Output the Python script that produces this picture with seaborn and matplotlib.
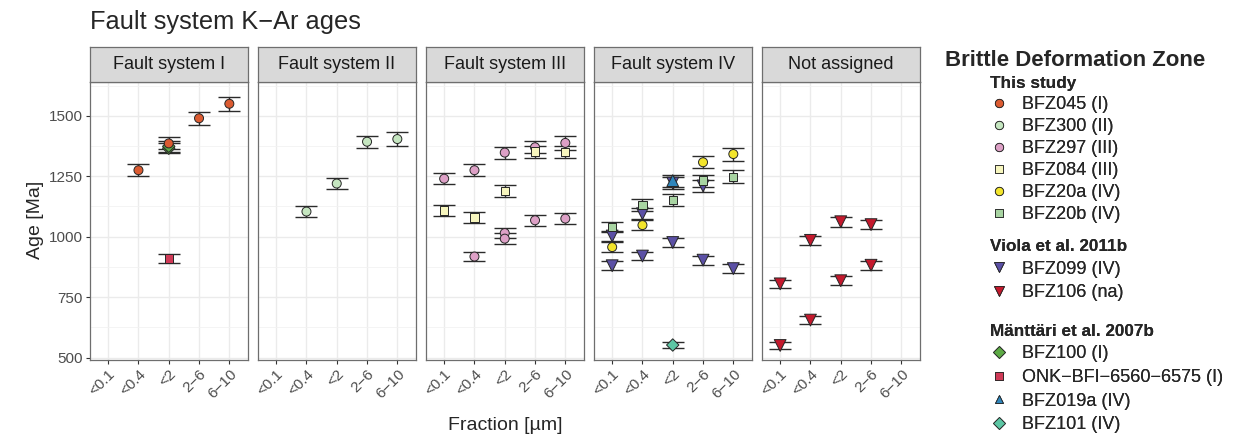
import matplotlib
matplotlib.use("Agg")
import matplotlib.pyplot as plt
import seaborn as sns
import pandas as pd
from matplotlib.lines import Line2D
from matplotlib.ticker import MultipleLocator

fractions = ['<0.1', '<0.4', '<2', '2−6', '6−10']
panels = ['Fault system I', 'Fault system II', 'Fault system III', 'Fault system IV', 'Not assigned']
y_ticks = [500, 750, 1000, 1250, 1500]

# one entry per measured age
sample = (['BFZ045 (I)'] * 4 + ['BFZ100 (I)'] * 2 + ['ONK−BFI−6560−6575 (I)']
          + ['BFZ300 (II)'] * 4
          + ['BFZ297 (III)'] * 10 + ['BFZ084 (III)'] * 5
          + ['BFZ20a (IV)'] * 4 + ['BFZ20b (IV)'] * 5 + ['BFZ099 (IV)'] * 9
          + ['BFZ019a (IV)'] + ['BFZ101 (IV)']
          + ['BFZ106 (na)'] * 8)
system = (['Fault system I'] * 7 + ['Fault system II'] * 4 + ['Fault system III'] * 15
          + ['Fault system IV'] * 20 + ['Not assigned'] * 8)
fraction = ['<0.4', '<2', '2−6', '6−10', '<2', '<2', '<2',
            '<0.4', '<2', '2−6', '6−10',
            '<0.1', '<0.4', '<0.4', '<2', '<2', '<2', '2−6', '2−6', '6−10', '6−10',
            '<0.1', '<0.4', '<2', '2−6', '6−10',
            '<0.1', '<0.4', '2−6', '6−10',
            '<0.1', '<0.4', '<2', '2−6', '6−10',
            '<0.1', '<0.1', '<0.4', '<0.4', '<2', '<2', '2−6', '2−6', '6−10',
            '<2', '<2',
            '<0.1', '<0.1', '<0.4', '<0.4', '<2', '<2', '2−6', '2−6']
age = [1275, 1386, 1490, 1550, 1366, 1374, 910,
       1104, 1220, 1393, 1404,
       1240, 1275, 918, 1348, 1015, 992, 1370, 1068, 1388, 1075,
       1108, 1080, 1190, 1352, 1350,
       957, 1048, 1308, 1342,
       1040, 1130, 1152, 1232, 1248,
       1003, 880, 1095, 920, 976, 1222, 1210, 903, 868,
       1232, 552,
       805, 550, 985, 655, 1062, 818, 1050, 882]
age_err = [25, 25, 27, 30, 20, 22, 18,
           22, 24, 25, 28,
           24, 25, 20, 25, 22, 22, 25, 22, 28, 22,
           22, 22, 24, 25, 25,
           20, 22, 25, 27,
           22, 24, 24, 25, 26,
           20, 18, 22, 18, 20, 24, 24, 18, 18,
           25, 12,
           18, 16, 18, 16, 20, 18, 20, 18]

groups = {
    'This study': ['BFZ045 (I)', 'BFZ300 (II)', 'BFZ297 (III)', 'BFZ084 (III)', 'BFZ20a (IV)', 'BFZ20b (IV)'],
    'Viola et al. 2011b': ['BFZ099 (IV)', 'BFZ106 (na)'],
    'Mänttäri et al. 2007b': ['BFZ100 (I)', 'ONK−BFI−6560−6575 (I)', 'BFZ019a (IV)', 'BFZ101 (IV)'],
}
colors = {
    'BFZ045 (I)': '#DC5B31', 'BFZ300 (II)': '#C5E6C0', 'BFZ297 (III)': '#DDA0C6',
    'BFZ084 (III)': '#F7F6BE', 'BFZ20a (IV)': '#F3E52C', 'BFZ20b (IV)': '#A8D4A2',
    'BFZ099 (IV)': '#5B50A5', 'BFZ106 (na)': '#C4192D',
    'BFZ100 (I)': '#5DAA45', 'ONK−BFI−6560−6575 (I)': '#D03A57',
    'BFZ019a (IV)': '#2F86BC', 'BFZ101 (IV)': '#5CC6A4',
}
markers = {
    'BFZ045 (I)': 'o', 'BFZ300 (II)': 'o', 'BFZ297 (III)': 'o', 'BFZ084 (III)': 's',
    'BFZ20a (IV)': 'o', 'BFZ20b (IV)': 's', 'BFZ099 (IV)': 'v', 'BFZ106 (na)': 'v',
    'BFZ100 (I)': 'D', 'ONK−BFI−6560−6575 (I)': 's', 'BFZ019a (IV)': '^', 'BFZ101 (IV)': 'D',
}
marker_area = {'o': 42, 's': 36, 'v': 72, '^': 72, 'D': 40}

df = pd.DataFrame({'sample': sample, 'system': system, 'fraction': fraction,
                   'age': age, 'err': age_err})
df['xpos'] = pd.Categorical(df['fraction'], categories=fractions).codes
# older studies underneath, this study on top
draw_order = groups['Viola et al. 2011b'] + groups['Mänttäri et al. 2007b'] + groups['This study']
df['layer'] = df['sample'].map({s: k for k, s in enumerate(draw_order)})
df = df.sort_values('layer', kind='stable')

sns.set_theme(style='whitegrid')
plt.rcParams['font.family'] = ['Liberation Sans', 'DejaVu Sans']

W, H = 1233, 441
fig = plt.figure(figsize=(W / 100, H / 100), dpi=100)

left0, pw, gap = 90, 157.5, 10.5
ptop, pbot, strip_h = 82, 360, 35
sizes = {s: marker_area[markers[s]] for s in colors}

for i, name in enumerate(panels):
    x0 = left0 + i * (pw + gap)
    ax = fig.add_axes([x0 / W, 1 - pbot / H, pw / W, (pbot - ptop) / H])
    sub = df[df['system'] == name]
    ax.errorbar(sub['xpos'], sub['age'], yerr=sub['err'], fmt='none', ecolor='#2b2b2b',
                elinewidth=1.0, capsize=8, capthick=1.0, zorder=2)
    sns.scatterplot(data=sub, x='xpos', y='age', hue='sample', style='sample', size='sample',
                    palette=colors, markers=markers, sizes=sizes, edgecolor='#262626',
                    linewidth=0.7, legend=False, ax=ax, zorder=3)
    ax.set_xlim(-0.6, 4.6)
    ax.set_ylim(490, 1640)
    ax.set_xticks(range(len(fractions)))
    ax.set_xticklabels(fractions, rotation=45, ha='right', rotation_mode='anchor',
                       fontsize=11, color='#4D4D4D')
    ax.set_yticks(y_ticks)
    ax.yaxis.set_minor_locator(MultipleLocator(125))
    ax.grid(True, which='major', color='#EBEBEB', lw=1.0)
    ax.grid(True, which='minor', axis='y', color='#F2F2F2', lw=0.6)
    ax.set_axisbelow(True)
    ax.set_facecolor('white')
    ax.tick_params(axis='both', length=3, width=0.8, color='#333333', pad=2)
    ax.tick_params(axis='x', direction='out', bottom=True)
    ax.tick_params(axis='y', direction='out', left=(i == 0))
    if i == 0:
        ax.set_yticklabels([str(v) for v in y_ticks], fontsize=11, color='#4D4D4D')
    else:
        ax.set_yticklabels([])
    ax.set_xlabel('')
    ax.set_ylabel('')
    for sp in ax.spines.values():
        sp.set_color('#6E6E6E')
        sp.set_linewidth(0.9)

    sax = fig.add_axes([x0 / W, 1 - ptop / H, pw / W, strip_h / H])
    sax.set_facecolor('#D9D9D9')
    sax.set_xticks([])
    sax.set_yticks([])
    sax.grid(False)
    for sp in sax.spines.values():
        sp.set_color('#6E6E6E')
        sp.set_linewidth(0.9)
    sax.text(0.5, 0.5, name, ha='center', va='center', fontsize=13, color='#1A1A1A',
             transform=sax.transAxes)

fig.text(90 / W, 1 - 22 / H, 'Fault system K−Ar ages', fontsize=18.3, va='center', ha='left')
fig.text(36 / W, 1 - 220 / H, 'Age [Ma]', fontsize=14, rotation=90, va='center', ha='center')
fig.text(505 / W, 1 - 426 / H, 'Fraction [µm]', fontsize=14, va='center', ha='center')

fig.text(945 / W, 1 - 60 / H, 'Brittle Deformation Zone', fontsize=16, fontweight='bold',
         va='center', ha='left')

legend_tops = {'This study': 76, 'Viola et al. 2011b': 239, 'Mänttäri et al. 2007b': 324}
legend_spacing = {'This study': 0.28, 'Viola et al. 2011b': 0.36, 'Mänttäri et al. 2007b': 0.36}
for title, members in groups.items():
    handles = [Line2D([0], [0], marker=markers[m], linestyle='none', markersize=6 if markers[m] != 'v' else 7,
                      markerfacecolor=colors[m], markeredgecolor='#262626', markeredgewidth=0.6)
               for m in members]
    leg = fig.legend(handles, members, title=title, loc='upper left',
                     bbox_to_anchor=(990 / W, 1 - legend_tops[title] / H), frameon=False,
                     fontsize=13, title_fontproperties={'weight': 'bold', 'size': 12.3},
                     alignment='left', borderpad=0, borderaxespad=0, handlelength=1.0,
                     handletextpad=0.78, labelspacing=legend_spacing[title])
    fig.add_artist(leg)

fig.savefig('out.png', dpi=100, facecolor='white')
